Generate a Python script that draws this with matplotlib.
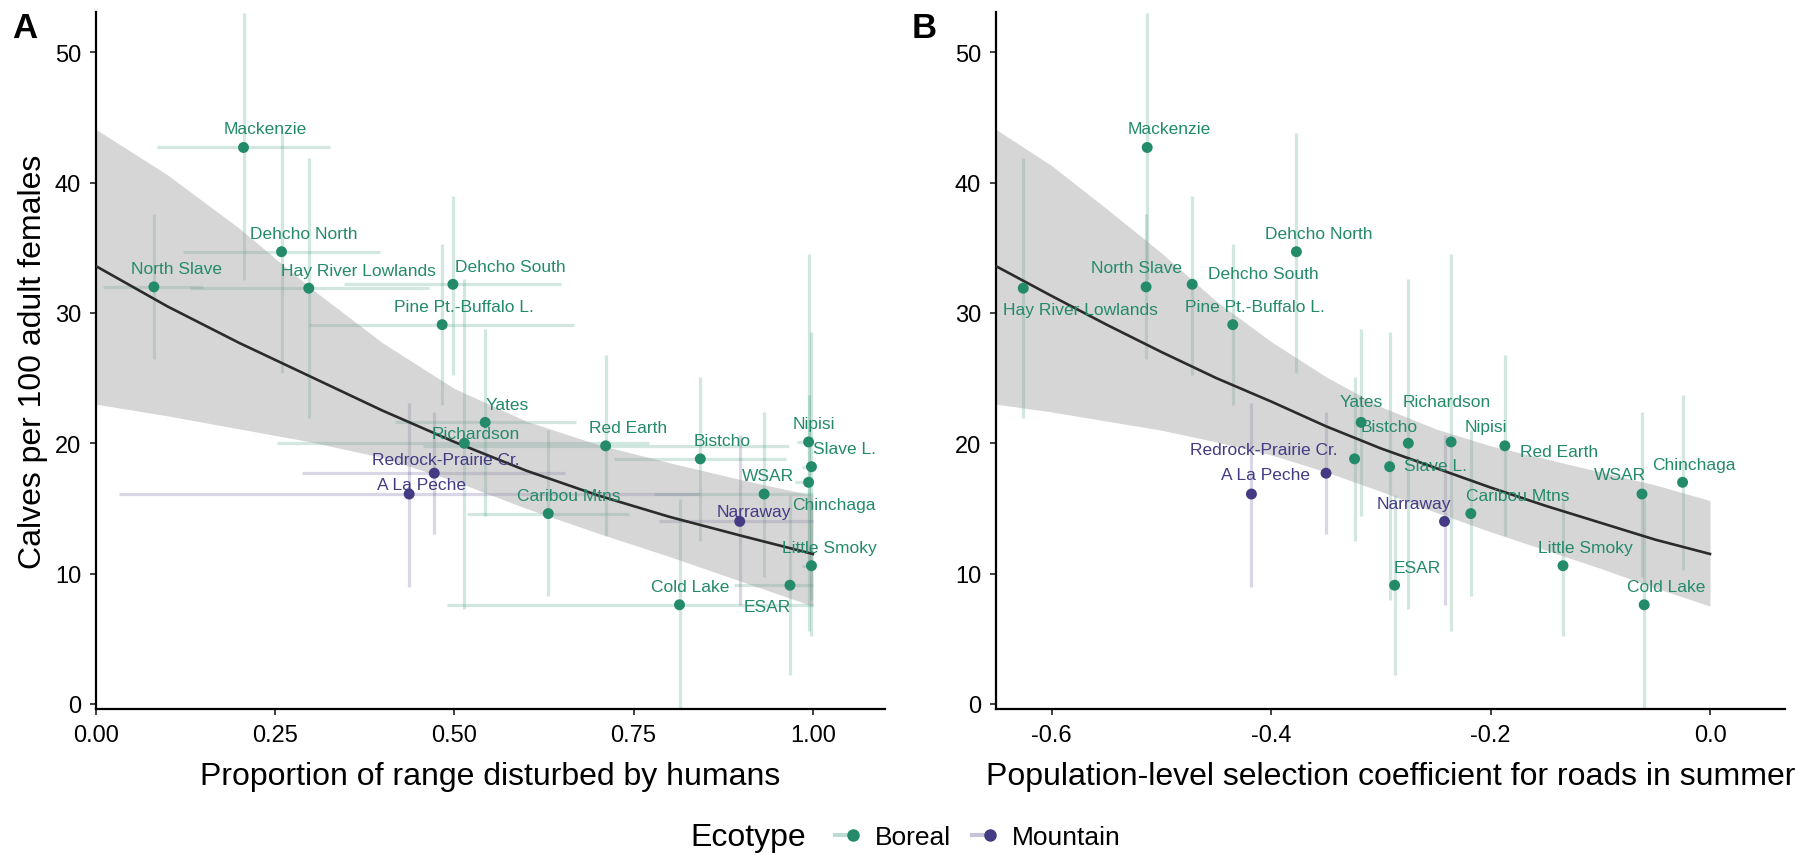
import matplotlib
matplotlib.use("Agg")
import matplotlib.pyplot as plt
from matplotlib.lines import Line2D
from matplotlib.legend_handler import HandlerTuple
import numpy as np

plt.rcParams['font.family'] = ['Liberation Sans', 'DejaVu Sans']
plt.rcParams['axes.unicode_minus'] = False

# ---- data ----
herd = ["Mackenzie", "Dehcho North", "North Slave", "Hay River Lowlands", "Dehcho South",
        "Pine Pt.-Buffalo L.", "Yates", "Richardson", "Red Earth", "Bistcho", "Nipisi",
        "Slave L.", "WSAR", "Chinchaga", "Caribou Mtns", "Little Smoky", "Cold Lake", "ESAR",
        "Narraway", "Redrock-Prairie Cr.", "A La Peche"]
ecotype = ["Boreal"] * 18 + ["Mountain"] * 3

calves = [42.7, 34.7, 32.0, 31.9, 32.2, 29.1, 21.6, 20.0, 19.8, 18.8, 20.1,
          18.2, 16.1, 17.0, 14.6, 10.6, 7.6, 9.1, 14.0, 17.7, 16.1]
calves_lo = [32.5, 25.4, 26.5, 21.9, 25.2, 22.9, 14.4, 7.3, 12.9, 12.5, 5.6,
             8.0, 9.7, 10.3, 8.3, 5.2, -0.3, 2.2, 7.6, 13.0, 9.0]
calves_hi = [53.0, 43.8, 37.6, 41.9, 39.0, 35.3, 28.8, 32.6, 26.8, 25.1, 34.5,
             28.5, 22.4, 23.7, 21.0, 15.6, 15.7, 16.0, 20.6, 22.4, 23.1]

disturb = [0.206, 0.259, 0.081, 0.297, 0.498, 0.483, 0.543, 0.514, 0.711, 0.843, 0.994,
           0.998, 0.932, 0.994, 0.631, 0.998, 0.814, 0.968, 0.898, 0.472, 0.437]
disturb_lo = [0.086, 0.121, 0.010, 0.131, 0.346, 0.298, 0.417, 0.252, 0.456, 0.722, 0.978,
              0.985, 0.778, 0.975, 0.517, 0.985, 0.490, 0.890, 0.785, 0.288, 0.033]
disturb_hi = [0.326, 0.397, 0.150, 0.464, 0.649, 0.667, 0.669, 0.772, 0.966, 0.963, 1.0,
              1.0, 1.0, 1.0, 0.744, 1.0, 1.0, 1.0, 1.0, 0.655, 0.841]

road_sel = [-0.513, -0.377, -0.514, -0.626, -0.472, -0.435, -0.318, -0.275, -0.187, -0.324, -0.236,
            -0.292, -0.062, -0.025, -0.218, -0.134, -0.060, -0.2875, -0.242, -0.350, -0.418]

# fitted curve and confidence band
fit_x_a = [0.0, 0.1, 0.2, 0.3, 0.4, 0.5, 0.6, 0.7, 0.8, 0.9, 1.0]
fit_a = [33.6, 30.5, 27.7, 25.1, 22.5, 20.1, 17.9, 16.0, 14.35, 12.9, 11.5]
upper_a = [44.1, 40.6, 36.5, 31.9, 27.7, 24.2, 21.7, 19.9, 18.5, 17.2, 16.0]
lower_a = [23.0, 22.1, 21.1, 20.1, 18.9, 17.1, 15.0, 13.1, 11.3, 9.4, 7.5]

fit_x_b = [-0.651, -0.6, -0.55, -0.5, -0.45, -0.4, -0.35, -0.3, -0.25, -0.2, -0.15, -0.1, -0.05, 0.0]
fit_b = [33.6, 31.3, 29.1, 27.0, 25.0, 23.2, 21.3, 19.6, 18.1, 16.6, 15.2, 13.9, 12.6, 11.5]
upper_b = [44.1, 41.3, 38.0, 34.6, 30.9, 27.8, 25.1, 22.8, 21.1, 19.8, 18.8, 17.8, 16.8, 15.6]
lower_b = [23.0, 22.4, 21.7, 21.0, 20.1, 19.1, 17.8, 16.3, 14.7, 13.2, 11.8, 10.4, 8.9, 7.5]

colors = {"Boreal": "#238a6a", "Mountain": "#433b84"}

# label offsets in points (repelled label placement)
offs_a = {"Mackenzie": (16, 14), "Dehcho North": (16, 13), "North Slave": (16, 13),
          "Hay River Lowlands": (36, 13), "Dehcho South": (41, 13), "Pine Pt.-Buffalo L.": (16, 13),
          "Yates": (16, 13), "Richardson": (8, 7), "Red Earth": (16, 13), "Bistcho": (16, 13),
          "Nipisi": (4, 13), "Slave L.": (24, 13), "WSAR": (3, 13), "Chinchaga": (18, -16),
          "Caribou Mtns": (15, 13), "Little Smoky": (13, 13), "Cold Lake": (8, 13),
          "ESAR": (-16, -15), "Narraway": (10, 7), "Redrock-Prairie Cr.": (8, 10),
          "A La Peche": (9, 7)}
offs_b = {"Mackenzie": (16, 14), "Dehcho North": (16, 13), "North Slave": (-7, 14),
          "Hay River Lowlands": (41, -15), "Dehcho South": (51, 8), "Pine Pt.-Buffalo L.": (16, 13),
          "Yates": (0, 15), "Richardson": (28, 30), "Red Earth": (39, -4), "Bistcho": (25, 23),
          "Nipisi": (25, 11), "Slave L.": (33, 1), "WSAR": (-16, 14), "Chinchaga": (8, 13),
          "Caribou Mtns": (34, 13), "Little Smoky": (16, 13), "Cold Lake": (16, 13),
          "ESAR": (16, 13), "Narraway": (-22, 13), "Redrock-Prairie Cr.": (-45, 17),
          "A La Peche": (10, 14)}

fig = plt.figure(figsize=(17.98, 8.54), dpi=100)
ax_a = fig.add_axes([0.05328, 0.16862, 0.43871, 0.81616])
ax_b = fig.add_axes([0.55384, 0.16862, 0.43871, 0.81616])


def draw_panel(ax, xs, fx, fy, up, lo, offs, xerr=None):
    cols = [colors[e] for e in ecotype]
    ax.vlines(xs, calves_lo, calves_hi, colors=cols, alpha=0.2, linewidth=2.3, zorder=1)
    if xerr is not None:
        ax.hlines(calves, xerr[0], xerr[1], colors=cols, alpha=0.2, linewidth=2.3, zorder=1)
    ax.fill_between(fx, lo, up, color="#999999", alpha=0.4, linewidth=0, zorder=2)
    ax.plot(fx, fy, color="#2b2b2b", linewidth=1.9, zorder=3)
    ax.scatter(xs, calves, c=cols, s=62, linewidths=0, zorder=4)
    for h, x, y, c in zip(herd, xs, calves, cols):
        ax.annotate(h, (x, y), xytext=offs[h], textcoords="offset points",
                    ha="center", va="center", fontsize=12.5, color=c, zorder=5)
    ax.set_ylim(-0.4, 53.1)
    ax.set_yticks([0, 10, 20, 30, 40, 50])
    for s in ["top", "right"]:
        ax.spines[s].set_visible(False)
    for s in ["left", "bottom"]:
        ax.spines[s].set_linewidth(1.6)
    ax.tick_params(labelsize=17, length=4.5, width=1.2, pad=6, colors="#222222", labelcolor="black")


draw_panel(ax_a, disturb, fit_x_a, fit_a, upper_a, lower_a, offs_a, xerr=(disturb_lo, disturb_hi))
ax_a.set_xlim(0, 1.1)
ax_a.set_xticks([0, 0.25, 0.5, 0.75, 1.0])
ax_a.set_xticklabels(["0.00", "0.25", "0.50", "0.75", "1.00"])
ax_a.set_xlabel("Proportion of range disturbed by humans", fontsize=23, labelpad=11)
ax_a.set_ylabel("Calves per 100 adult females", fontsize=23, labelpad=5)

draw_panel(ax_b, road_sel, fit_x_b, fit_b, upper_b, lower_b, offs_b)
ax_b.set_xlim(-0.651, 0.068)
ax_b.set_xticks([-0.6, -0.4, -0.2, 0.0])
ax_b.set_xticklabels(["-0.6", "-0.4", "-0.2", "0.0"])
ax_b.set_xlabel("Population-level selection coefficient for roads in summer", fontsize=23, labelpad=11)

fig.text(12 / 1798, 1 - 12 / 854, "A", fontsize=25, fontweight="bold", va="top", ha="left")
fig.text(912 / 1798, 1 - 12 / 854, "B", fontsize=25, fontweight="bold", va="top", ha="left")

# legend
fig.text(690 / 1798, 1 - 838 / 854, "Ecotype", fontsize=23, va="center", ha="left")
handles = []
for e in ["Boreal", "Mountain"]:
    ln = Line2D([], [], color=colors[e], alpha=0.3, linewidth=3)
    pt = Line2D([], [], color=colors[e], marker="o", markersize=8, linestyle="none")
    handles.append((ln, pt))
fig.legend(handles, ["Boreal", "Mountain"], handler_map={tuple: HandlerTuple(ndivide=None)},
           loc="center left", bbox_to_anchor=(822 / 1798, 1 - 838 / 854), ncol=2, frameon=False,
           fontsize=19, handlelength=0.9, handletextpad=0.6, columnspacing=0.8, borderpad=0)

fig.savefig("out.png", dpi=100)
